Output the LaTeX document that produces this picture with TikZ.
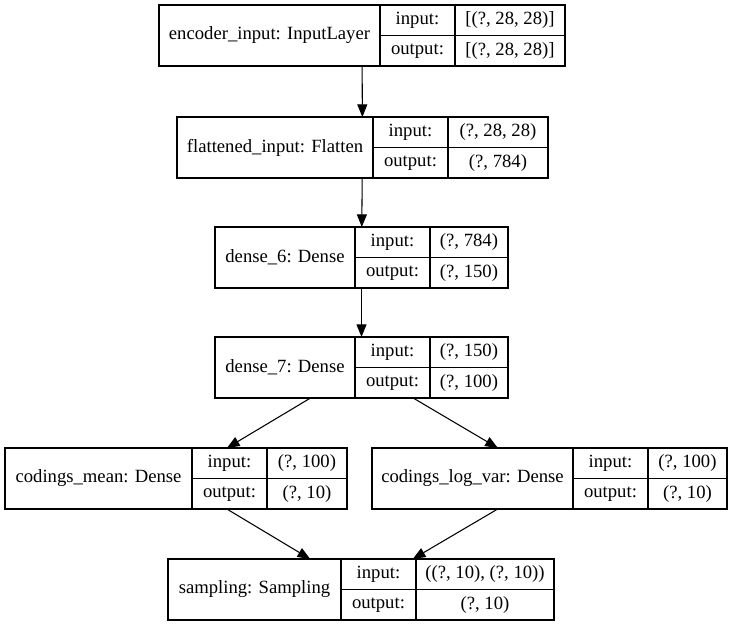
\documentclass[tikz,border=0pt]{standalone}
\usepackage{fontspec}
\setmainfont{Liberation Serif}
\usetikzlibrary{arrows.meta, positioning, fit}

\begin{document}
\begin{tikzpicture}[x=0.75pt,y=-0.75pt,
 every node/.style={font=\fontsize{14}{17}\selectfont,inner sep=0pt,outer sep=0pt},
 lname/.style={rectangle,draw,line width=0.8pt,minimum height=45.75pt,anchor=north west},
 lkey/.style={rectangle,draw,line width=0.8pt,minimum height=22.875pt,minimum width=56.25pt},
 lval/.style={lkey,minimum width=#1},
 arr/.style={-{Triangle[length=9.5pt,width=7.5pt]},line width=0.8pt}]
\useasboundingbox (0,0) rectangle (733,627);
% encoder_input
\node[lname,minimum width=165.75pt] (inp-n) at (159,5) {encoder\_input: InputLayer};
\node[lkey,anchor=north west] (inp-ik) at (inp-n.north east) {input:};
\node[lkey,below=0pt of inp-ik] (inp-ok) {output:};
\node[lval=82.5pt,right=0pt of inp-ik] (inp-iv) {[(?, 28, 28)]};
\node[lval=82.5pt,right=0pt of inp-ok] (inp-ov) {[(?, 28, 28)]};
\node[fit=(inp-n)(inp-ov)] (inp) {};
% flattened_input
\node[lname,minimum width=147pt] (flat-n) at (177,117) {flattened\_input: Flatten};
\node[lkey,anchor=north west] (flat-ik) at (flat-n.north east) {input:};
\node[lkey,below=0pt of flat-ik] (flat-ok) {output:};
\node[lval=75pt,right=0pt of flat-ik] (flat-iv) {(?, 28, 28)};
\node[lval=75pt,right=0pt of flat-ok] (flat-ov) {(?, 784)};
\node[fit=(flat-n)(flat-ov)] (flat) {};
% dense_6
\node[lname,minimum width=105pt] (dsix-n) at (215,227) {dense\_6: Dense};
\node[lkey,anchor=north west] (dsix-ik) at (dsix-n.north east) {input:};
\node[lkey,below=0pt of dsix-ik] (dsix-ok) {output:};
\node[lval=58.5pt,right=0pt of dsix-ik] (dsix-iv) {(?, 784)};
\node[lval=58.5pt,right=0pt of dsix-ok] (dsix-ov) {(?, 150)};
\node[fit=(dsix-n)(dsix-ov)] (dsix) {};
% dense_7
\node[lname,minimum width=105pt] (dsev-n) at (215,337) {dense\_7: Dense};
\node[lkey,anchor=north west] (dsev-ik) at (dsev-n.north east) {input:};
\node[lkey,below=0pt of dsev-ik] (dsev-ok) {output:};
\node[lval=58.5pt,right=0pt of dsev-ik] (dsev-iv) {(?, 150)};
\node[lval=58.5pt,right=0pt of dsev-ok] (dsev-ov) {(?, 100)};
\node[fit=(dsev-n)(dsev-ov)] (dsev) {};
% codings_mean
\node[lname,minimum width=140.25pt] (mean-n) at (5,448) {codings\_mean: Dense};
\node[lkey,anchor=north west] (mean-ik) at (mean-n.north east) {input:};
\node[lkey,below=0pt of mean-ik] (mean-ok) {output:};
\node[lval=60pt,right=0pt of mean-ik] (mean-iv) {(?, 100)};
\node[lval=60pt,right=0pt of mean-ok] (mean-ov) {(?, 10)};
\node[fit=(mean-n)(mean-ov)] (mean) {};
% codings_log_var
\node[lname,minimum width=150.75pt] (lvar-n) at (372,448) {codings\_log\_var: Dense};
\node[lkey,anchor=north west] (lvar-ik) at (lvar-n.north east) {input:};
\node[lkey,below=0pt of lvar-ik] (lvar-ok) {output:};
\node[lval=59.25pt,right=0pt of lvar-ik] (lvar-iv) {(?, 100)};
\node[lval=59.25pt,right=0pt of lvar-ok] (lvar-ov) {(?, 10)};
\node[fit=(lvar-n)(lvar-ov)] (lvar) {};
% sampling
\node[lname,minimum width=129.75pt] (samp-n) at (168,559) {sampling: Sampling};
\node[lkey,anchor=north west] (samp-ik) at (samp-n.north east) {input:};
\node[lkey,below=0pt of samp-ik] (samp-ok) {output:};
\node[lval=103.5pt,right=0pt of samp-ik] (samp-iv) {((?, 10), (?, 10))};
\node[lval=103.5pt,right=0pt of samp-ok] (samp-ov) {(?, 10)};
\node[fit=(samp-n)(samp-ov)] (samp) {};
\draw[arr] (inp) -- (flat);
\draw[arr] (flat) -- (dsix);
\draw[arr] (dsix) -- (dsev);
\draw[arr] (dsev) -- (mean);
\draw[arr] (dsev) -- (lvar);
\draw[arr] (mean) -- (samp);
\draw[arr] (lvar) -- (samp);
\end{tikzpicture}
\end{document}
